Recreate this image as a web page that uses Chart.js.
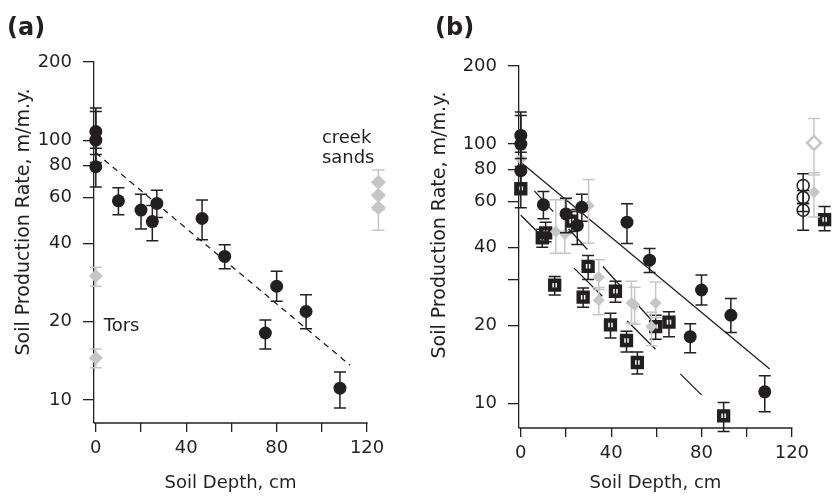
<!DOCTYPE html>
<html lang="en">
<head>
<meta charset="utf-8">
<title>Soil Production Rate vs Soil Depth</title>
<script src="https://cdn.jsdelivr.net/npm/chart.js@4.4.1/dist/chart.umd.min.js"></script>
<style>
  html, body { margin: 0; padding: 0; background: #fff; }
  .row { display: flex; width: 832px; height: 498px; }
  .panel { width: 416px; height: 498px; }
</style>
</head>
<body>
<div class="row">
  <div class="panel"><canvas id="chartA" width="416" height="498"></canvas></div>
  <div class="panel"><canvas id="chartB" width="416" height="498"></canvas></div>
</div>
<script>
// ---- axis ticks ----
const xTicks = [0, 20, 40, 60, 80, 100, 120];
const xLabels = [0, 40, 80, 120];
const yTicksA = [10, 20, 40, 60, 80, 100, 200];
const yTicksB = [10, 20, 30, 40, 60, 80, 100, 200];
const yLabels = [10, 20, 40, 60, 80, 100, 200];

// ---- bedrock samples (black circles, both panels) ----
const circleDepth = [0, 0, 0, 10, 20, 25, 27, 47, 57, 75, 80, 93, 108];
const circleRate  = [108, 100, 79, 58.4, 53.8, 48.6, 57.1, 50, 35.7, 18.1, 27.4, 21.9, 11.1];
const circleLow   = [88, 82, 66, 51.6, 45.5, 41, 50.4, 41.4, 32, 15.7, 24, 18.8, 9.3];
const circleHigh  = [133, 129, 93, 65.6, 61.9, 56, 64.1, 58.9, 39.6, 20.3, 31.3, 25.4, 12.8];

// ---- panel (a): tors and creek sands (gray diamonds) ----
const torDepth = [0, 0];
const torRate  = [30, 14.5];
const torLow   = [27.4, 13.3];
const torHigh  = [32.4, 15.7];

const creekDepth = [125, 125, 125];
const creekRate  = [68.9, 61.4, 55];
const creekLow   = [62, 54, 45];
const creekHigh  = [76.7, 69, 61];

// dashed fit, panel (a)
const fitADepth = [0, 112.5];
const fitARate  = [89.4, 13.6];

// ---- panel (b): squares ----
const squareDepth = [0, 9.5, 11, 15, 22.5, 27.6, 29.8, 39.7, 41.9, 46.8, 51.6, 59.7, 65.6, 89.8, 134.5];
const squareRate  = [67.3, 43.5, 45.5, 28.6, 50.5, 25.7, 33.8, 20.1, 27.1, 17.5, 14.4, 19.8, 20.6, 8.97, 51.2];
const squareLow   = [56.8, 40, 42, 26.2, 46, 23.5, 30.1, 17.9, 24.6, 15.8, 13, 17.7, 18.1, 7.8, 46.3];
const squareHigh  = [78, 47, 50, 30.9, 55, 27.9, 37.2, 22.3, 29.6, 19, 15.8, 21.9, 22.6, 10.1, 57.5];

// ---- panel (b): gray diamonds ----
const grayDepth = [0, 15.5, 19.5, 30, 34.5, 34.5, 49, 50.4, 57.8, 59.7, 129.8];
const grayRate  = [87.6, 46, 45, 57.8, 30.7, 25, 24.4, 24, 19.8, 24.4, 65.3];
const grayLow   = [80, 38, 38, 41.5, 27.5, 22, 20.4, 20.2, 16.7, 21.4, 52.4];
const grayHigh  = [96, 61, 61, 73, 35.8, 28, 29.6, 28.1, 22.5, 29.4, 77.5];

// ---- panel (b): open symbols at right ----
const openCircleDepth = [125, 125, 125];
const openCircleRate  = [69.3, 62.2, 55.6];
const openCircleLow   = [59, 55, 46.6];
const openCircleHigh  = [76.8, 66.3, 59];

const openDiamondDepth = [129.8];
const openDiamondRate  = [101];
const openDiamondLow   = [76];
const openDiamondHigh  = [125.4];

// fits, panel (b)
const fitSolidDepth = [0, 110.2];
const fitSolidRate  = [85.1, 13.6];
const fitLongDepth  = [0, 80];
const fitLongRate   = [53.2, 10.8];
const fitMidDepth   = [6, 60];
const fitMidRate    = [66, 20];

const ink = '#231f20';
const gray = '#c6c6c6';
const family = "'DejaVu Sans', sans-serif";
const axisEnd = 120;   // x axis line stops here, samples beyond it sit off-axis

function pts(xs, ys) {
  return xs.map((x, i) => ({ x: x, y: ys[i] }));
}

// vertical error bars with caps, drawn just under each dataset
const errorBars = {
  id: 'errorBars',
  beforeDatasetDraw(chart, args) {
    const ds = chart.data.datasets[args.index];
    if (!ds.errLow) return;
    const { ctx } = chart;
    const x = chart.scales.x, y = chart.scales.y;
    ctx.save();
    ctx.strokeStyle = ds.errColor;
    ctx.lineWidth = 1.5;
    ds.data.forEach((p, i) => {
      const px = x.getPixelForValue(p.x);
      const top = y.getPixelForValue(ds.errHigh[i]);
      const bot = y.getPixelForValue(ds.errLow[i]);
      ctx.beginPath();
      ctx.moveTo(px, top); ctx.lineTo(px, bot);
      ctx.moveTo(px - 6, top); ctx.lineTo(px + 6, top);
      ctx.moveTo(px - 6, bot); ctx.lineTo(px + 6, bot);
      ctx.stroke();
    });
    ctx.restore();
  }
};

// x axis line only up to 120, plus x title centred under it
const shortAxis = {
  id: 'shortAxis',
  beforeDatasetsDraw(chart) {
    const { ctx, chartArea } = chart;
    const x = chart.scales.x;
    const end = x.getPixelForValue(axisEnd);
    ctx.save();
    ctx.strokeStyle = ink;
    ctx.lineWidth = 1.3;
    ctx.beginPath();
    ctx.moveTo(chartArea.left, chartArea.bottom);
    ctx.lineTo(end + 0.6, chartArea.bottom);
    ctx.stroke();
    ctx.fillStyle = ink;
    ctx.font = "18px " + family;
    ctx.textAlign = 'center';
    ctx.textBaseline = 'middle';
    ctx.fillText('Soil Depth, cm', (chartArea.left + end) / 2, 483);
    ctx.restore();
  }
};

// panel letter, rotated y title and in-plot notes
function panelText(cfg) {
  return {
    id: 'panelText',
    afterDraw(chart) {
      const { ctx } = chart;
      const x = chart.scales.x, y = chart.scales.y;
      ctx.save();
      ctx.fillStyle = ink;
      ctx.font = "bold 24px " + family;
      ctx.textAlign = 'left';
      ctx.textBaseline = 'alphabetic';
      ctx.fillText(cfg.label, cfg.labelX, 35);

      ctx.font = "19px " + family;
      ctx.save();
      ctx.translate(cfg.titleX, cfg.titleY);
      ctx.rotate(-Math.PI / 2);
      ctx.textAlign = 'center';
      ctx.textBaseline = 'middle';
      ctx.fillText('Soil Production Rate, m/m.y.', 0, 0);
      ctx.restore();

      ctx.font = "18px " + family;
      (cfg.notes || []).forEach(n => {
        ctx.fillText(n.text, x.getPixelForValue(n.x), y.getPixelForValue(n.y));
      });
      ctx.restore();
    }
  };
}

function scatterSet(xs, ys, lo, hi, style) {
  return Object.assign({
    data: pts(xs, ys),
    errLow: lo,
    errHigh: hi,
    showLine: false,
    clip: false
  }, style);
}

function lineSet(xs, ys, dash) {
  return {
    data: pts(xs, ys),
    showLine: true,
    borderColor: ink,
    borderWidth: 1.3,
    borderDash: dash,
    pointRadius: 0,
    fill: false,
    clip: false,
    order: 9
  };
}

const circleStyle = { pointStyle: 'circle', pointRadius: 6.5, backgroundColor: ink, borderColor: ink, borderWidth: 0, errColor: ink, order: 1 };

function makeOptions(yWidth, xHeight, padTop, padRight, xMax, yMin, yTicks) {
  const tickFont = { family: family, size: 18 };
  return {
    responsive: false,
    animation: false,
    events: [],
    layout: { autoPadding: false, padding: { left: 0, top: padTop, right: padRight, bottom: 0 } },
    plugins: { legend: { display: false }, tooltip: { enabled: false } },
    scales: {
      x: {
        type: 'linear',
        min: -0.8,
        max: xMax,
        afterBuildTicks: s => { s.ticks = xTicks.map(v => ({ value: v })); },
        afterFit: s => { s.height = xHeight; },
        border: { display: false },
        grid: { drawOnChartArea: false, drawTicks: true, tickLength: 9, color: ink, lineWidth: 1.3 },
        ticks: {
          autoSkip: false, maxRotation: 0, padding: 6, color: ink, font: tickFont,
          callback: v => xLabels.includes(v) ? String(v) : ''
        }
      },
      y: {
        type: 'logarithmic',
        min: yMin,
        max: 200,
        afterBuildTicks: s => { s.ticks = yTicks.map(v => ({ value: v })); },
        afterFit: s => { s.width = yWidth; },
        border: { display: true, color: ink, width: 1.3 },
        grid: { drawOnChartArea: false, drawTicks: true, tickLength: 11, color: ink, lineWidth: 1.3 },
        ticks: {
          autoSkip: false, padding: 11, color: ink, font: tickFont,
          callback: v => yLabels.includes(v) ? String(v) : ''
        }
      }
    }
  };
}

new Chart(document.getElementById('chartA'), {
  type: 'scatter',
  data: {
    datasets: [
      scatterSet(circleDepth, circleRate, circleLow, circleHigh, circleStyle),
      scatterSet(torDepth, torRate, torLow, torHigh,
        { pointStyle: 'rectRot', pointRadius: 7, backgroundColor: gray, borderColor: gray, borderWidth: 0, errColor: gray, order: 2 }),
      scatterSet(creekDepth, creekRate, creekLow, creekHigh,
        { pointStyle: 'rectRot', pointRadius: 7.5, backgroundColor: gray, borderColor: gray, borderWidth: 0, errColor: gray, order: 2 }),
      lineSet(fitADepth, fitARate, [6, 5])
    ]
  },
  options: makeOptions(94, 75, 62, 15, 135, 8.15, yTicksA),
  plugins: [errorBars, shortAxis, panelText({
    label: '(a)', labelX: 7, titleX: 24, titleY: 222,
    notes: [
      { text: 'Tors', x: 3.5, y: 18.5 },
      { text: 'creek', x: 100, y: 97.6 },
      { text: 'sands', x: 100, y: 81.9 }
    ]
  })]
});

new Chart(document.getElementById('chartB'), {
  type: 'scatter',
  data: {
    datasets: [
      scatterSet(circleDepth, circleRate, circleLow, circleHigh, circleStyle),
      scatterSet(grayDepth, grayRate, grayLow, grayHigh,
        { pointStyle: 'rectRot', pointRadius: 6, backgroundColor: gray, borderColor: gray, borderWidth: 0, errColor: gray, order: 2 }),
      scatterSet(openDiamondDepth, openDiamondRate, openDiamondLow, openDiamondHigh,
        { pointStyle: 'rectRot', pointRadius: 7, backgroundColor: '#ffffff', borderColor: gray, borderWidth: 2.5, errColor: gray, order: 2 }),
      scatterSet(openCircleDepth, openCircleRate, openCircleLow, openCircleHigh,
        { pointStyle: 'circle', pointRadius: 6, backgroundColor: 'rgba(0,0,0,0)', borderColor: ink, borderWidth: 1.5, errColor: ink, order: 2 }),
      scatterSet(squareDepth, squareRate, squareLow, squareHigh,
        { pointStyle: 'rect', pointRadius: 6.3, backgroundColor: 'rgba(0,0,0,0)', borderColor: ink, borderWidth: 4.4, errColor: ink, order: 3 }),
      lineSet(fitSolidDepth, fitSolidRate, []),
      lineSet(fitLongDepth, fitLongRate, [40, 35]),
      lineSet(fitMidDepth, fitMidRate, [28, 23])
    ]
  },
  options: makeOptions(103, 70, 66, 4, 136, 8.05, yTicksB),
  plugins: [errorBars, shortAxis, panelText({ label: '(b)', labelX: 19, titleX: 24, titleY: 225 })]
});
</script>
</body>
</html>
